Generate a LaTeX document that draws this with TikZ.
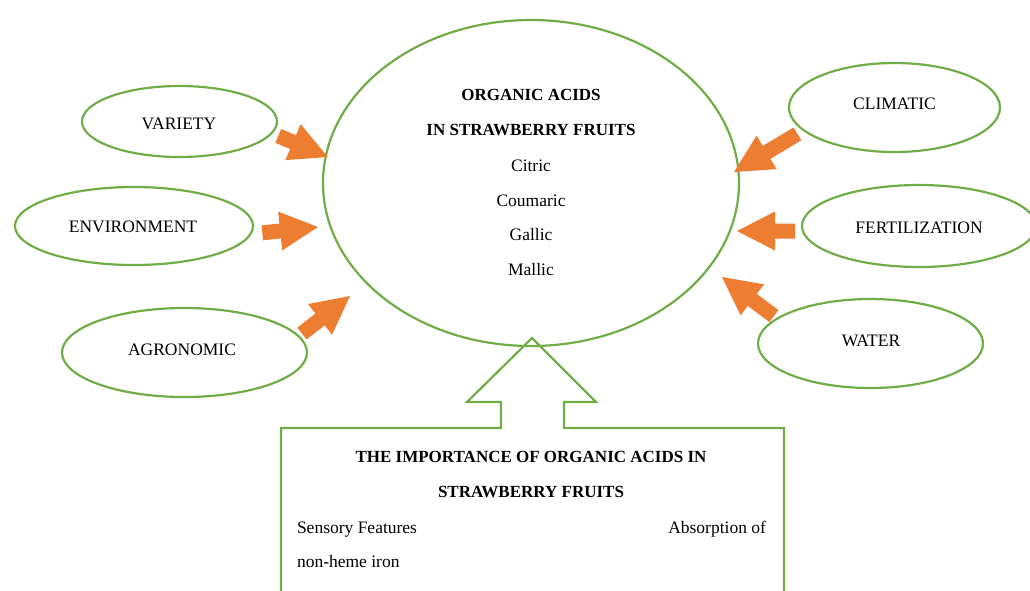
\documentclass[tikz,border=0pt]{standalone}
\usepackage{fontspec}
\setmainfont{Liberation Serif}
\usetikzlibrary{shapes.geometric}
\definecolor{grn}{RGB}{112,173,71}
\definecolor{org}{RGB}{237,125,49}
\newcommand\blockarr[3]{% tip coordinate, page angle, total length
  \fill[org, shift={(#1)}, rotate=#2] (0,0) -- (-38,19.5) -- (-38,7.5) -- (-#3,7.5)
    -- (-#3,-7.5) -- (-38,-7.5) -- (-38,-19.5) -- cycle;}
\begin{document}
\begin{tikzpicture}[x=1pt,y=-1pt,
  every node/.style={font=\fontsize{17.5}{20}\selectfont, inner sep=0pt, outer sep=0pt},
  ell/.style={ellipse, draw=grn, line width=2.2pt},
  txt/.style={anchor=base},
  hd/.style={anchor=base, font=\fontsize{17}{20}\selectfont\bfseries},
  bigline/.style={draw=grn, line width=2.2pt, line join=miter}]
\useasboundingbox (0,0) rectangle (1030,590);
\clip (0,0) rectangle (1030,590);

% central ellipse
\node[ell, minimum width=416pt, minimum height=326pt] (acids) at (531,183) {};
\node[hd] (t1) at (531,100) {ORGANIC ACIDS};
\node[hd] (t2) at (531,135) {IN STRAWBERRY FRUITS};
\node[txt] (t3) at (531,171) {Citric};
\node[txt] (t4) at (531,206) {Coumaric};
\node[txt] (t5) at (531,240) {Gallic};
\node[txt] (t6) at (531,275) {Mallic};

% factor ellipses
\node[ell, minimum width=195pt, minimum height=71pt] (variety) at (179.5,121.5) {};
\node[txt] (varietyt) at (179,129) {VARIETY};
\node[ell, minimum width=238pt, minimum height=78pt] (env) at (134,226) {};
\node[txt] (envt) at (133,232) {ENVIRONMENT};
\node[ell, minimum width=245pt, minimum height=89pt] (agro) at (184.5,352.5) {};
\node[txt] (agrot) at (182,355) {AGRONOMIC};
\node[ell, minimum width=211pt, minimum height=89pt] (clim) at (894.5,107.5) {};
\node[txt] (climt) at (894.5,109) {CLIMATIC};
\node[ell, minimum width=234pt, minimum height=82pt] (fert) at (919,226) {};
\node[txt] (fertt) at (919,233) {FERTILIZATION};
\node[ell, minimum width=225pt, minimum height=89pt] (water) at (870.5,343.5) {};
\node[txt] (watert) at (871,346) {WATER};

% orange block arrows (tip points)
\coordinate (p1) at (328,157);
\coordinate (p2) at (318,227);
\coordinate (p3) at (350,296);
\coordinate (p4) at (734,172);
\coordinate (p5) at (737,231);
\coordinate (p6) at (722,277);
\blockarr{p1}{-23}{54}
\blockarr{p2}{6}{56}
\blockarr{p3}{38}{61}
\blockarr{p4}{211}{74}
\blockarr{p5}{180}{58}
\blockarr{p6}{143}{65}

% big hollow arrow with box
\draw[bigline] (281,600) -- (281,428) -- (501,428) -- (501,402) -- (467,402)
  -- (532,338) -- (596,402) -- (564,402) -- (564,428) -- (784,428) -- (784,600);
\node[hd] (b1) at (531,462) {THE IMPORTANCE OF ORGANIC ACIDS IN};
\node[hd] (b2) at (531,497) {STRAWBERRY FRUITS};
\node[anchor=base west] (b3) at (297,533) {Sensory Features};
\node[anchor=base east] (b4) at (766,533) {Absorption of};
\node[anchor=base west] (b5) at (297,567) {non-heme iron};
\end{tikzpicture}
\end{document}
